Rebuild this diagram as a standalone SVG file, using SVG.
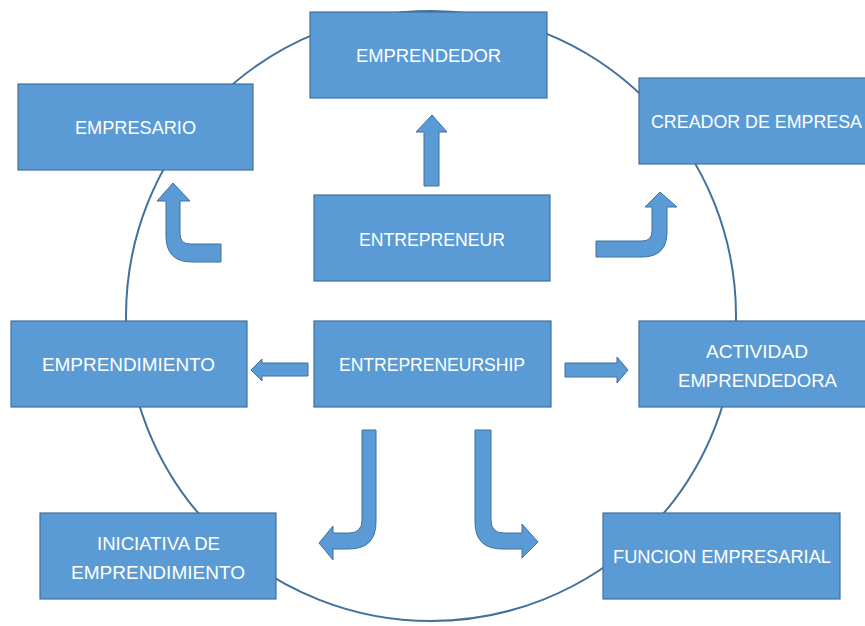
<svg xmlns="http://www.w3.org/2000/svg" width="865" height="626" viewBox="0 0 865 626">
<style>
.box rect{fill:#5B9BD5;stroke:#41719C;stroke-width:1.2}
.box text{fill:#FFFFFF;font-family:"Liberation Sans","Open Sans",sans-serif;font-size:18px;text-anchor:middle}
.arr{fill:#5B9BD5;stroke:#41719C;stroke-width:1}
</style>
<rect width="865" height="626" fill="#FFFFFF"/>
<circle cx="431" cy="316" r="305" fill="none" stroke="#41719C" stroke-width="2"/>
<g id="connectors">
<path class="arr" d="M424,186 L424,132 L416,132 L432,115 L447,132 L439,132 L439,186 Z"/>
<path class="arr" d="M221,244 L190,244 Q180,244 180,234 L180,201 L190,201 L173,183 L157,201 L166,201 L166,236 Q166,262 192,262 L221,262 Z"/>
<path class="arr" d="M596,241 L642,241 Q652,241 652,231 L652,207 L645,207 L660,192 L677,207 L667,207 L667,232 Q667,257 642,257 L596,257 Z"/>
<path class="arr" d="M308,363 L262,363 L262,359 L251,370 L262,381 L262,376 L308,376 Z"/>
<path class="arr" d="M565,363 L617,363 L617,357 L628,370 L617,383 L617,377 L565,377 Z"/>
<path class="arr" d="M362,430 L376,430 L376,522 Q376,549 349,549 L333,549 L333,560 L319,543 L333,526 L333,533 L349,533 Q362,533 362,520 Z"/>
<path class="arr" d="M475,430 L491,430 L491,520 Q491,533 504,533 L522,533 L522,524 L538,542 L522,558 L522,549 L502,549 Q475,549 475,522 Z"/>
</g>
<g id="n-emprendedor" class="box"><rect x="310" y="12" width="237" height="86"/><text x="428.5" y="62" textLength="145" lengthAdjust="spacingAndGlyphs">EMPRENDEDOR</text></g>
<g id="n-empresario" class="box"><rect x="18" y="84" width="235" height="86"/><text x="135.5" y="134" textLength="121" lengthAdjust="spacingAndGlyphs">EMPRESARIO</text></g>
<g id="n-creador" class="box"><rect x="639" y="78" width="240" height="86"/><text x="756.5" y="128" textLength="211" lengthAdjust="spacingAndGlyphs">CREADOR DE EMPRESA</text></g>
<g id="n-entrepreneur" class="box"><rect x="314" y="195" width="236" height="86"/><text x="432" y="246" textLength="146" lengthAdjust="spacingAndGlyphs">ENTREPRENEUR</text></g>
<g id="n-emprendimiento" class="box"><rect x="11" y="321" width="236" height="86"/><text x="128.5" y="371" textLength="173" lengthAdjust="spacingAndGlyphs">EMPRENDIMIENTO</text></g>
<g id="n-entrepreneurship" class="box"><rect x="314" y="321" width="237" height="86"/><text x="432" y="371" textLength="186" lengthAdjust="spacingAndGlyphs">ENTREPRENEURSHIP</text></g>
<g id="n-actividad" class="box"><rect x="639" y="321" width="240" height="86"/><text x="757" y="358" textLength="102" lengthAdjust="spacingAndGlyphs">ACTIVIDAD</text><text x="757.5" y="387" textLength="159" lengthAdjust="spacingAndGlyphs">EMPRENDEDORA</text></g>
<g id="n-iniciativa" class="box"><rect x="40" y="513" width="236" height="86"/><text x="158.5" y="550" textLength="123" lengthAdjust="spacingAndGlyphs">INICIATIVA DE</text><text x="158" y="579" textLength="174" lengthAdjust="spacingAndGlyphs">EMPRENDIMIENTO</text></g>
<g id="n-funcion" class="box"><rect x="603" y="513" width="237" height="86"/><text x="722" y="563" textLength="218" lengthAdjust="spacingAndGlyphs">FUNCION EMPRESARIAL</text></g>
</svg>
